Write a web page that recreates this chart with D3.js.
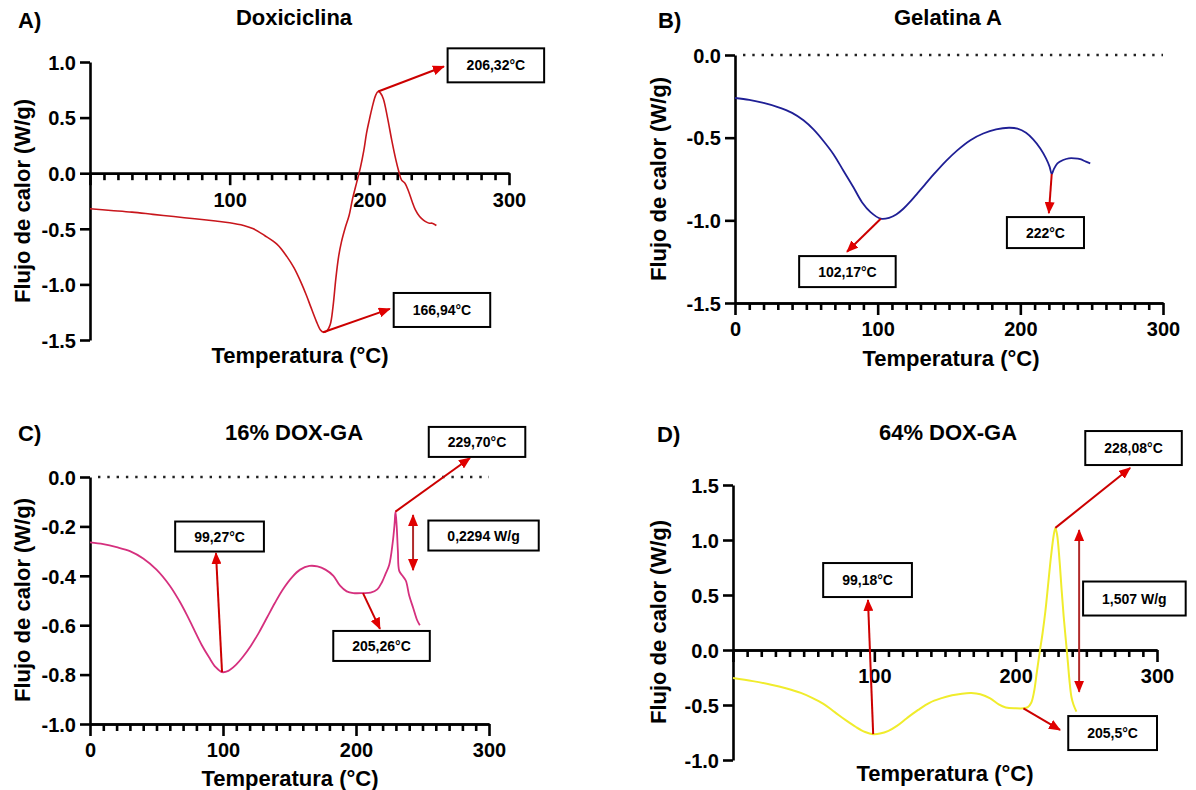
<!DOCTYPE html>
<html>
<head>
<meta charset="utf-8">
<script src="https://cdn.jsdelivr.net/npm/d3@7"></script>
<style>
  body { margin: 0; background: #fff; }
  svg text { font-family: "Liberation Sans", Arial, sans-serif; font-weight: bold; fill: #000; }
  .tick text { font-size: 20px; }
  .ptitle, .letter { font-size: 22px; }
  .atitle { font-size: 22px; }
  .note { font-size: 14px; }
</style>
</head>
<body>
<script>
// ---- data (temperature in °C, heat flow in W/g) ----
const tempTicks = [0, 100, 200, 300];

const doxCurve = [
  [0, -0.32], [15, -0.335], [30, -0.35], [45, -0.37], [60, -0.39], [75, -0.41], [90, -0.43],
  [100, -0.445], [110, -0.47], [117, -0.5], [125, -0.56], [134, -0.64], [141, -0.75], [146, -0.85],
  [151, -0.98], [155, -1.1], [158, -1.2], [162, -1.33], [165, -1.41], [167, -1.43], [169.5, -1.42],
  [172, -1.36], [174, -1.2], [176, -0.95], [178, -0.75], [180, -0.62], [183, -0.48], [185.5, -0.38],
  [188, -0.23], [191, -0.08], [193.6, 0.05], [196, 0.2], [198, 0.36], [200, 0.48], [202, 0.59],
  [204.5, 0.7], [206.3, 0.735], [208, 0.72], [210, 0.67], [213, 0.5], [216, 0.3], [219, 0.12],
  [221, 0.02], [223, -0.06], [225.5, -0.09], [228, -0.16], [230.5, -0.25], [233, -0.33], [236, -0.39],
  [238.5, -0.42], [241, -0.44], [243, -0.45], [245, -0.45], [248, -0.47]
];
const doxTicks = [-1.5, -1.0, -0.5, 0.0, 0.5, 1.0];
const doxLabels = [
  { text: "206,32°C", at: [290.6, 0.97] },
  { text: "166,94°C", at: [252, -1.23] }
];
const doxArrows = [
  { from: [206.32, 0.735], to: [253.4, 0.96] },
  { from: [166.94, -1.43], to: [214.7, -1.22] }
];

const gelCurve = [
  [0, -0.26], [10, -0.272], [20, -0.29], [30, -0.315], [40, -0.35], [48, -0.395], [55, -0.45],
  [62, -0.52], [69, -0.6], [76, -0.7], [83, -0.8], [89, -0.89], [95, -0.95], [102.2, -0.99],
  [108, -0.985], [113, -0.965], [118, -0.93], [123, -0.885], [128, -0.835], [133, -0.785],
  [140, -0.715], [148, -0.64], [156, -0.575], [165, -0.515], [174, -0.475], [183, -0.45],
  [192, -0.44], [198, -0.445], [204, -0.47], [209, -0.51], [214, -0.565], [218, -0.625],
  [220.5, -0.675], [222, -0.72], [223.5, -0.69], [226, -0.655], [230, -0.635], [234, -0.625],
  [238, -0.625], [242, -0.63], [246, -0.645], [249, -0.655]
];
const gelTicks = [-1.5, -1.0, -0.5, 0.0];
const gelLabels = [
  { text: "102,17°C", at: [78.8, -1.31] },
  { text: "222°C", at: [217.6, -1.074] }
];
const gelArrows = [
  { from: [102.17, -0.99], to: [78.5, -1.19] },
  { from: [222, -0.72], to: [220, -0.956] }
];

const dox16Curve = [
  [0, -0.265], [10, -0.272], [20, -0.284], [30, -0.3], [40, -0.33], [50, -0.375], [60, -0.44],
  [67, -0.5], [73, -0.56], [78, -0.615], [84, -0.68], [89.5, -0.73], [94.5, -0.77], [99.27, -0.79],
  [104, -0.785], [109.5, -0.762], [115, -0.728], [121, -0.683], [127, -0.63], [133, -0.57],
  [139, -0.51], [145, -0.455], [152, -0.405], [158, -0.375], [165, -0.36], [171, -0.362],
  [177, -0.375], [183, -0.4], [188, -0.44], [193, -0.463], [198, -0.47], [205.26, -0.47],
  [211, -0.468], [216, -0.455], [219.6, -0.425], [222, -0.395], [225, -0.355], [227.5, -0.27],
  [229, -0.19], [229.7, -0.14], [230.6, -0.2], [231.5, -0.3], [232.5, -0.38], [235, -0.4],
  [237.5, -0.42], [240, -0.48], [243, -0.53], [246, -0.58], [248, -0.6]
];
const dox16Ticks = [-1.0, -0.8, -0.6, -0.4, -0.2, 0.0];
const dox16Labels = [
  { text: "99,27°C", at: [97.4, -0.241] },
  { text: "229,70°C", at: [291, 0.142] },
  { text: "0,2294 W/g", at: [295.9, -0.237] },
  { text: "205,26°C", at: [219.2, -0.684] }
];
const dox16Arrows = [
  { from: [99.27, -0.79], to: [94.7, -0.308] },
  { from: [229.7, -0.14], to: [285.7, 0.077] },
  { from: [242.9, -0.154], to: [242.9, -0.377], both: true },
  { from: [205.26, -0.47], to: [218, -0.615] }
];

const dox64Curve = [
  [0, -0.255], [14, -0.283], [27, -0.315], [38, -0.35], [48, -0.39], [56, -0.435], [64, -0.49],
  [72, -0.565], [80, -0.64], [87, -0.7], [93.5, -0.745], [99.2, -0.765], [104, -0.76], [110, -0.735],
  [116, -0.69], [123, -0.62], [131, -0.545], [139, -0.48], [147, -0.44], [155, -0.412], [162, -0.397],
  [168.6, -0.392], [175, -0.403], [182, -0.44], [188, -0.495], [193, -0.522], [200, -0.53],
  [205.5, -0.53], [208.6, -0.52], [211, -0.48], [213, -0.38], [215, -0.2], [217, -0.02], [219, 0.15],
  [221, 0.35], [223, 0.6], [225, 0.85], [227, 1.05], [228.1, 1.11], [229.3, 1.05], [231, 0.82],
  [232.5, 0.55], [234, 0.3], [235.5, 0.09], [237, -0.12], [238, -0.27], [239.5, -0.43], [241, -0.5],
  [243, -0.56]
];
const dox64Ticks = [-1.0, -0.5, 0.0, 0.5, 1.0, 1.5];
const dox64Labels = [
  { text: "228,08°C", at: [283.4, 1.836] },
  { text: "99,18°C", at: [95.2, 0.636] },
  { text: "1,507 W/g", at: [284, 0.468] },
  { text: "205,5°C", at: [268.6, -0.755] }
];
const dox64Arrows = [
  { from: [228.08, 1.11], to: [281, 1.655] },
  { from: [99.18, -0.765], to: [95.5, 0.455] },
  { from: [244.9, 1.09], to: [244.9, -0.38], both: true },
  { from: [205.5, -0.53], to: [231.4, -0.727] }
];

// ---- layout ----
const panels = [
  { letter: "A)", title: "Doxiciclina", curve: doxCurve, yTicks: doxTicks, labels: doxLabels, arrows: doxArrows,
    color: "#c8161c", width: 1.6, x0: 90, x1: 509, yTop: 62, yBot: 340, axisAtZero: true, zeroLabel: false,
    dotted: false, letterPos: [18, 28], titlePos: [294, 25], xTitlePos: [300, 363], yTitlePos: [22, 201], boxH: 34 },
  { letter: "B)", title: "Gelatina A", curve: gelCurve, yTicks: gelTicks, labels: gelLabels, arrows: gelArrows,
    color: "#1f1f95", width: 1.8, x0: 735, x1: 1163, yTop: 55, yBot: 303, axisAtZero: false, zeroLabel: true,
    dotted: true, letterPos: [658, 28], titlePos: [948, 25], xTitlePos: [951, 366], yTitlePos: [658, 179], boxH: 31 },
  { letter: "C)", title: "16% DOX-GA", curve: dox16Curve, yTicks: dox16Ticks, labels: dox16Labels, arrows: dox16Arrows,
    color: "#d5307e", width: 1.8, x0: 90, x1: 489, yTop: 477, yBot: 724, axisAtZero: false, zeroLabel: true,
    dotted: true, letterPos: [18, 441], titlePos: [294, 440], xTitlePos: [290, 786], yTitlePos: [22, 600], boxH: 30 },
  { letter: "D)", title: "64% DOX-GA", curve: dox64Curve, yTicks: dox64Ticks, labels: dox64Labels, arrows: dox64Arrows,
    color: "#f0ec2c", width: 2, x0: 733, x1: 1157, yTop: 485, yBot: 760, axisAtZero: true, zeroLabel: false,
    dotted: false, letterPos: [657, 442], titlePos: [948, 440], xTitlePos: [945, 781], yTitlePos: [658, 622], boxH: 34 }
];

const svg = d3.select("body").append("svg").attr("width", 1196).attr("height", 790);

//arrow heads
svg.append("defs").append("marker")
  .attr("id", "head")
  .attr("viewBox", "0 0 12 10")
  .attr("refX", 11).attr("refY", 5)
  .attr("markerWidth", 12).attr("markerHeight", 10)
  .attr("markerUnits", "userSpaceOnUse")
  .attr("orient", "auto-start-reverse")
  .append("path").attr("d", "M0,0L12,5L0,10Z").attr("fill", "#e00000");

const minorTicks = d3.range(10, 300, 10).filter((d) => d % 100 !== 0);

panels.forEach((p) => {
  const g = svg.append("g");
  const yDomain = [d3.min(p.yTicks), d3.max(p.yTicks)];
  const x = d3.scaleLinear().domain([0, 300]).range([p.x0, p.x1]);
  const y = d3.scaleLinear().domain(yDomain).range([p.yBot, p.yTop]);
  const axisY = p.axisAtZero ? y(0) : p.yBot;

  //titles
  g.append("text").attr("class", "letter").attr("x", p.letterPos[0]).attr("y", p.letterPos[1]).text(p.letter);
  g.append("text").attr("class", "ptitle").attr("x", p.titlePos[0]).attr("y", p.titlePos[1])
    .attr("text-anchor", "middle").text(p.title);
  g.append("text").attr("class", "atitle").attr("x", p.xTitlePos[0]).attr("y", p.xTitlePos[1])
    .attr("text-anchor", "middle").text("Temperatura (°C)");
  g.append("text").attr("class", "atitle")
    .attr("transform", `translate(${p.yTitlePos[0]},${p.yTitlePos[1]}) rotate(-90)`)
    .attr("text-anchor", "middle").attr("dy", "0.36em").text("Flujo de calor (W/g)");

  //dotted zero line
  if (p.dotted) {
    g.append("line")
      .attr("x1", x(0) + 8).attr("x2", x(300))
      .attr("y1", y(0)).attr("y2", y(0))
      .attr("stroke", "#222").attr("stroke-width", 2.4)
      .attr("stroke-dasharray", "2.4 6.9");
  }

  //axes
  const xMinor = g.append("g").attr("transform", `translate(0,${axisY})`)
    .call(d3.axisBottom(x).tickValues(minorTicks).tickSize(7).tickSizeOuter(0).tickFormat(""));
  const xMajor = g.append("g").attr("transform", `translate(0,${axisY})`)
    .call(d3.axisBottom(x).tickValues(tempTicks).tickSize(12).tickSizeOuter(0).tickPadding(7)
      .tickFormat((d) => (d === 0 && !p.zeroLabel ? "" : d)));
  const yAx = g.append("g").attr("transform", `translate(${p.x0},0)`)
    .call(d3.axisLeft(y).tickValues(p.yTicks).tickSize(10).tickSizeOuter(0).tickPadding(4)
      .tickFormat((d) => d.toFixed(1)));
  [xMinor, xMajor, yAx].forEach((a) => {
    a.attr("font-size", null).attr("font-family", null);
    a.selectAll("path, line").attr("stroke", "#000").attr("stroke-width", 2.6);
  });
  xMajor.selectAll(".tick text").attr("dy", "0.72em");
  yAx.selectAll(".tick text").attr("dy", "0.36em");

  //curve
  const line = d3.line().x((d) => x(d[0])).y((d) => y(d[1])).curve(d3.curveCatmullRom.alpha(0.5));
  g.append("path").datum(p.curve)
    .attr("d", line).attr("fill", "none")
    .attr("stroke", p.color).attr("stroke-width", p.width)
    .attr("stroke-linejoin", "round");

  //arrows
  g.selectAll(".arrow").data(p.arrows).enter().append("line")
    .attr("class", "arrow")
    .attr("x1", (d) => x(d.from[0])).attr("y1", (d) => y(d.from[1]))
    .attr("x2", (d) => x(d.to[0])).attr("y2", (d) => y(d.to[1]))
    .attr("stroke", (d) => (d.both ? "#b02a2a" : "#cc0000"))
    .attr("stroke-width", 2)
    .attr("marker-end", "url(#head)")
    .attr("marker-start", (d) => (d.both ? "url(#head)" : null));

  //label boxes
  p.labels.forEach((l) => {
    const cx = x(l.at[0]);
    const cy = y(l.at[1]);
    const box = g.append("rect").attr("fill", "#fff").attr("stroke", "#000").attr("stroke-width", 2);
    const t = g.append("text").attr("class", "note")
      .attr("x", cx).attr("y", cy).attr("dy", "0.36em")
      .attr("text-anchor", "middle").text(l.text);
    const w = t.node().getComputedTextLength() + 38;
    box.attr("x", cx - w / 2).attr("y", cy - p.boxH / 2).attr("width", w).attr("height", p.boxH);
  });
});
</script>
</body>
</html>
